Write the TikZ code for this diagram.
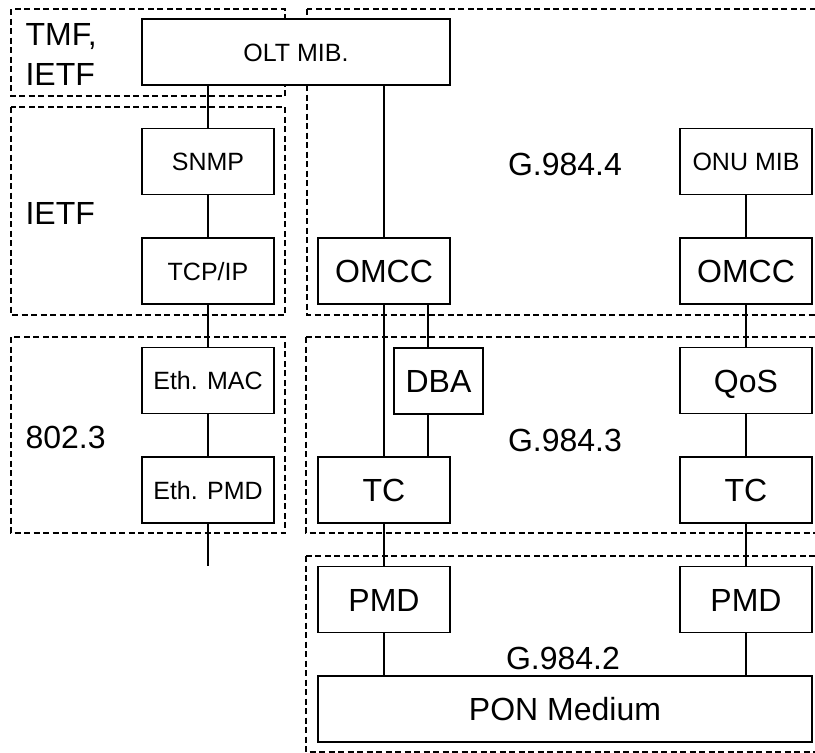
\documentclass[tikz,border=0pt]{standalone}
\usepackage{fontspec}
\setmainfont{Liberation Sans}

\begin{document}
\begin{tikzpicture}[x=1pt, y=-1pt, line width=1.2pt,
        zone/.style = {draw, dash pattern=on 6pt off 3.5pt, line width=1.3pt},
        blk/.style = {draw, fill=white, inner sep=0pt, text depth=0pt,
            minimum width=132pt, minimum height=66pt},
        big/.style = {blk, font=\fontsize{32}{40}\selectfont, text height=23pt},
        small/.style = {blk, font=\fontsize{25}{30}\selectfont, text height=18pt},
        lbl/.style = {font=\fontsize{32}{40}\selectfont, inner sep=0pt}]
    \useasboundingbox (0,0) rectangle (815,753);

    \draw[zone] (11,9) rectangle (285,96);
    \draw[zone] (307,9) rectangle (830,315);
    \draw[zone] (11,107) rectangle (285,315);
    \draw[zone] (11,337) rectangle (285,533);
    \draw[zone] (306,337) rectangle (830,533);
    \draw[zone] (306,556) rectangle (830,752);

    \node[lbl, anchor=north west, align=left] (tmf) at (25,23) {TMF,\\IETF};
    \node[lbl, anchor=west] (ietf) at (25,213) {IETF};
    \node[lbl, anchor=west] (ieee) at (25,437) {802.3};
    \node[lbl] (g4) at (565,164) {G.984.4};
    \node[lbl] (g3) at (565,440) {G.984.3};
    \node[lbl] (g2) at (563,658) {G.984.2};

    \node[small, minimum width=308pt] (olt) at (296,52) {OLT MIB.};
    \node[small] (snmp) at (208,161.5) {SNMP};
    \node[small] (tcpip) at (208,271) {TCP/IP};
    \node[small] (ethmac) at (208,380.5) {Eth. MAC};
    \node[small] (ethpmd) at (208,490) {Eth. PMD};

    \node[big] (omccl) at (384,271) {OMCC};
    \node[big, minimum width=89pt] (dba) at (438.5,381) {DBA};
    \node[big] (tcl) at (384,490) {TC};
    \node[big] (pmdl) at (384,599.5) {PMD};

    \node[small] (onumib) at (746,161.5) {ONU MIB};
    \node[big] (omccr) at (746,271) {OMCC};
    \node[big] (qos) at (746,380.5) {QoS};
    \node[big] (tcr) at (746,490) {TC};
    \node[big] (pmdr) at (746,599.5) {PMD};

    \node[big, minimum width=494pt] (pon) at (565,709) {PON Medium};

    \draw (olt.south -| snmp.north) -- (snmp.north);
    \draw (snmp.south) -- (tcpip.north);
    \draw (tcpip.south) -- (ethmac.north);
    \draw (ethmac.south) -- (ethpmd.north);
    \draw (ethpmd.south) -- (ethpmd.south |- pmdl.north);

    \draw (olt.south -| omccl.north) -- (omccl.north);
    \draw (omccl.south) -- (tcl.north);
    \draw ([xshift=-10.5pt]dba.north |- omccl.south) -- ([xshift=-10.5pt]dba.north);
    \draw ([xshift=-10.5pt]dba.south) -- ([xshift=-10.5pt]dba.south |- tcl.north);
    \draw (tcl.south) -- (pmdl.north);
    \draw (pmdl.south) -- (pmdl.south |- pon.north);

    \draw (onumib.south) -- (omccr.north);
    \draw (omccr.south) -- (qos.north);
    \draw (qos.south) -- (tcr.north);
    \draw (tcr.south) -- (pmdr.north);
    \draw (pmdr.south) -- (pmdr.south |- pon.north);
\end{tikzpicture}
\end{document}
